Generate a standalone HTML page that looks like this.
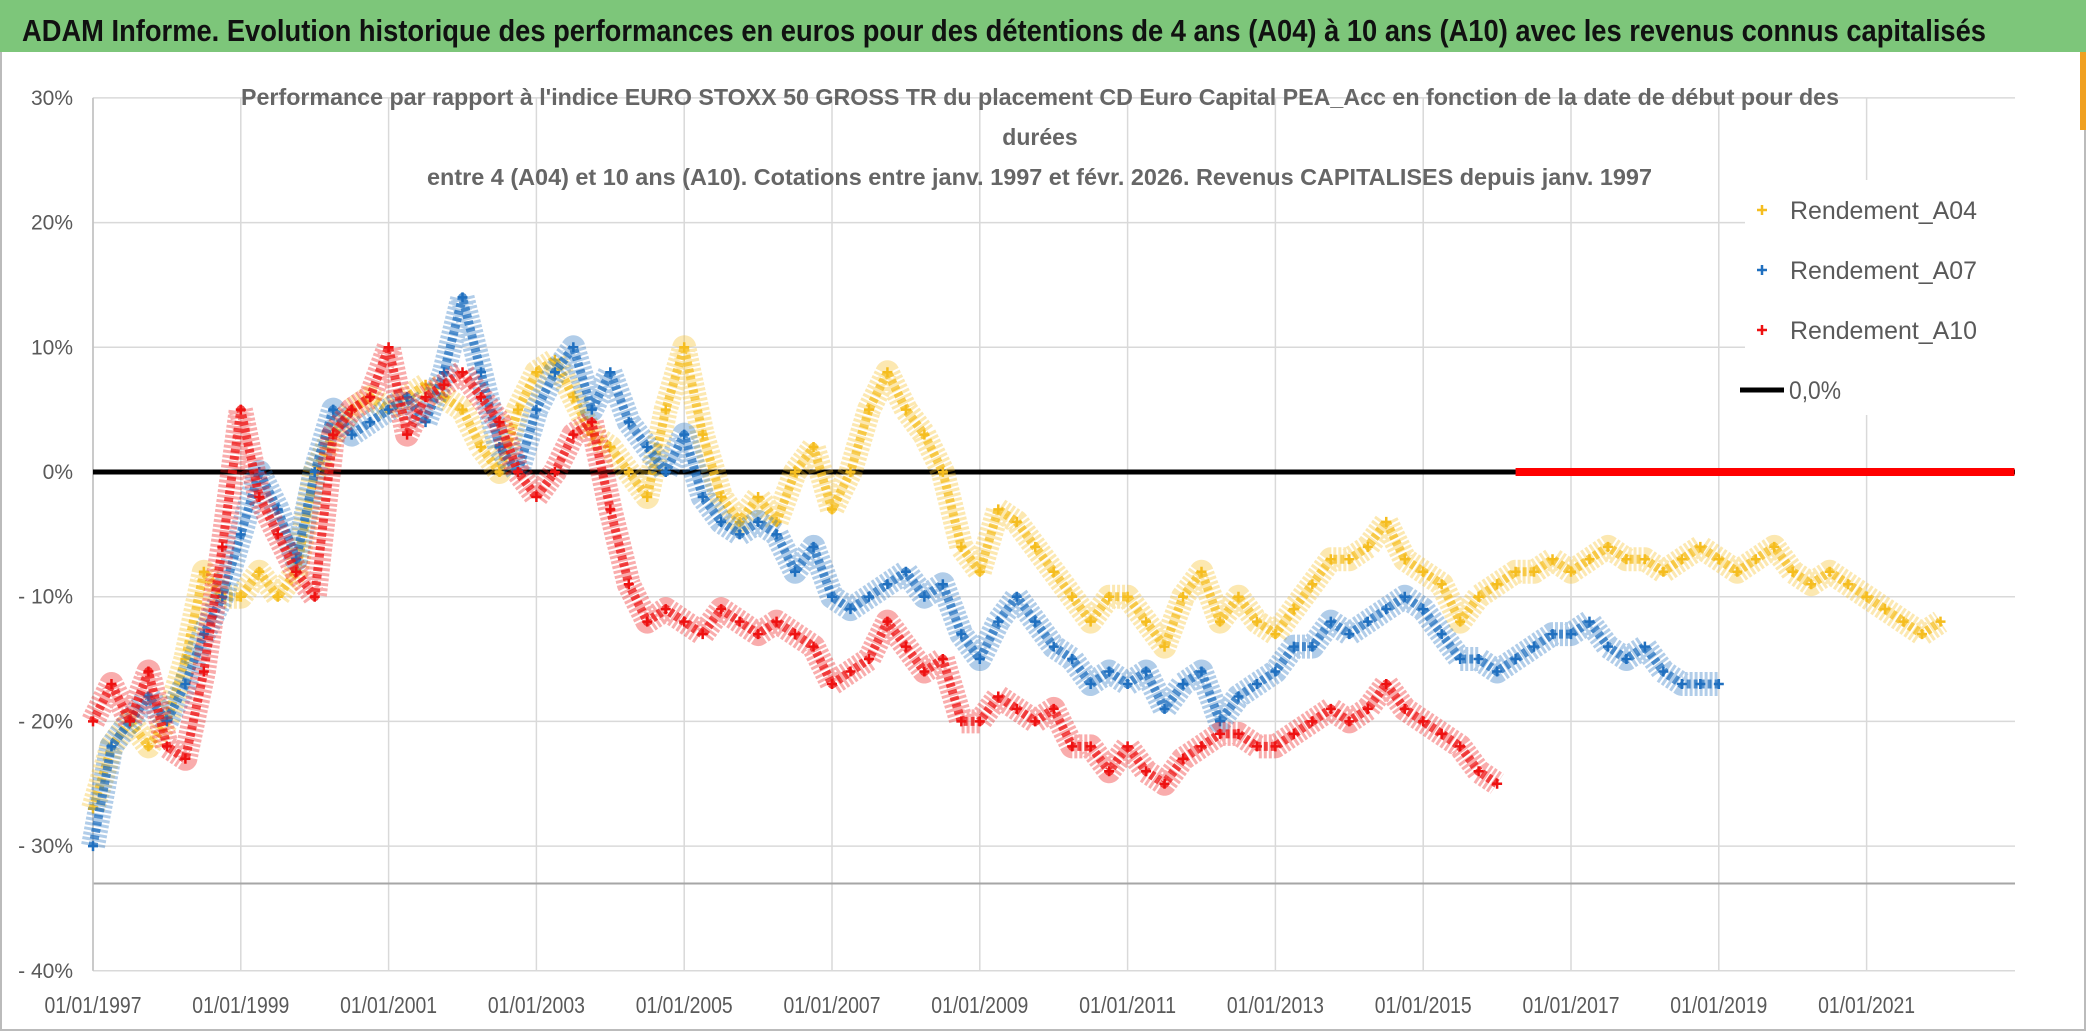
<!DOCTYPE html>
<html><head><meta charset="utf-8"><style>
html,body{margin:0;padding:0;background:#fff;}
svg{display:block;font-family:"Liberation Sans Narrow","Liberation Sans",sans-serif;}
</style></head><body>
<svg id="chart" width="2086" height="1031" viewBox="0 0 2086 1031">
<rect x="0" y="0" width="2086" height="1031" fill="#fff"/>
<rect x="1" y="1" width="2084" height="1029" fill="none" stroke="#bbb" stroke-width="2"/>
<rect x="2080" y="50" width="6" height="80" fill="#f0a020"/>
<rect x="0" y="0" width="2086" height="52" fill="#7dc67a"/>
<text x="22" y="41" font-size="31" font-weight="bold" fill="#111" textLength="1964" lengthAdjust="spacingAndGlyphs">ADAM Informe. Evolution historique des performances en euros pour des détentions de 4 ans (A04) à 10 ans (A10) avec les revenus connus capitalisés</text>
<g id="grid"></g>
<g id="plot"></g>
<g>
<text x="241" y="105" font-size="23" font-weight="bold" fill="#666" textLength="1598" lengthAdjust="spacingAndGlyphs">Performance par rapport à l'indice EURO STOXX 50 GROSS TR  du placement CD Euro Capital PEA_Acc en fonction de la date de début pour des</text>
<text x="1040" y="145" font-size="23" font-weight="bold" fill="#666" text-anchor="middle">durées</text>
<text x="427" y="185" font-size="23" font-weight="bold" fill="#666" textLength="1225" lengthAdjust="spacingAndGlyphs">entre 4 (A04) et 10 ans (A10). Cotations entre janv. 1997 et févr. 2026. Revenus CAPITALISES depuis janv. 1997</text>
</g>
<g id="legend"></g>
</svg>
<script>
const yTicks=[30,20,10,0,-10,-20,-30,-40];
const yTickLabels=["30%","20%","10%","0%","- 10%","- 20%","- 30%","- 40%"];
const xTickYears=[1997,1999,2001,2003,2005,2007,2009,2011,2013,2015,2017,2019,2021];
const xTickLabels=["01/01/1997","01/01/1999","01/01/2001","01/01/2003","01/01/2005","01/01/2007","01/01/2009","01/01/2011","01/01/2013","01/01/2015","01/01/2017","01/01/2019","01/01/2021"];
const startYear=1997;
const a04=[-27,-22,-20,-22,-20,-15,-8,-10,-10,-8,-10,-8,0,3,5,6,5,6,7,6,5,2,0,5,8,9,6,3,2,0,-2,5,10,3,-2,-4,-2,-4,0,2,-3,0,5,8,5,3,0,-6,-8,-3,-4,-6,-8,-10,-12,-10,-10,-12,-14,-10,-8,-12,-10,-12,-13,-11,-9,-7,-7,-6,-4,-7,-8,-9,-12,-10,-9,-8,-8,-7,-8,-7,-6,-7,-7,-8,-7,-6,-7,-8,-7,-6,-8,-9,-8,-9,-10,-11,-12,-13,-12];
const a07=[-30,-22,-20,-18,-20,-17,-13,-10,-5,0,-3,-7,0,5,3,4,5,6,4,8,14,8,2,0,5,8,10,5,8,4,2,0,3,-2,-4,-5,-4,-5,-8,-6,-10,-11,-10,-9,-8,-10,-9,-13,-15,-12,-10,-12,-14,-15,-17,-16,-17,-16,-19,-17,-16,-20,-18,-17,-16,-14,-14,-12,-13,-12,-11,-10,-11,-13,-15,-15,-16,-15,-14,-13,-13,-12,-14,-15,-14,-16,-17,-17,-17];
const a10=[-20,-17,-20,-16,-22,-23,-16,-6,5,-2,-5,-8,-10,3,5,6,10,3,6,7,8,6,4,0,-2,0,3,4,-3,-9,-12,-11,-12,-13,-11,-12,-13,-12,-13,-14,-17,-16,-15,-12,-14,-16,-15,-20,-20,-18,-19,-20,-19,-22,-22,-24,-22,-24,-25,-23,-22,-21,-21,-22,-22,-21,-20,-19,-20,-19,-17,-19,-20,-21,-22,-24,-25];
const a10Zero=[0,0,0,0,0,0,0,0,0,0,0,0,0,0,0,0,0,0,0,0,0,0,0,0,0,0,0,0];
const a10ZeroStart=2016.25;
const NS="http://www.w3.org/2000/svg";
const X0=93,PX_YEAR=73.9,Y0=472,PX_PCT=12.47,XR=2015;
const xs=y=>X0+(y-startYear)*PX_YEAR;
const ys=v=>Y0-v*PX_PCT;
function mk(t,a,p){const e=document.createElementNS(NS,t);for(const k in a)e.setAttribute(k,a[k]);p.appendChild(e);return e;}
const grid=document.getElementById('grid'),plot=document.getElementById('plot'),legend=document.getElementById('legend');
yTicks.forEach((v,i)=>{
 const l=mk('line',{x1:X0,x2:XR,y1:ys(v),y2:ys(v),stroke:'#d9d9d9','stroke-width':1.5},grid);
 
 
 const t=mk('text',{x:73,y:ys(v)+7,'font-size':21,fill:'#595959','text-anchor':'end'},grid);
 t.textContent=yTickLabels[i];
 
 
});
xTickYears.forEach((yr,i)=>{
 const l=mk('line',{x1:xs(yr),x2:xs(yr),y1:ys(30),y2:ys(-40),stroke:'#d9d9d9','stroke-width':1.5},grid);
 
 
 const t=mk('text',{x:xs(yr),y:1013,'font-size':23,fill:'#595959','text-anchor':'middle',textLength:97,lengthAdjust:'spacingAndGlyphs'},grid);
 t.textContent=xTickLabels[i];
 
 
});
const ax=mk('line',{x1:X0,x2:XR,y1:ys(-33),y2:ys(-33),stroke:'#a6a6a6','stroke-width':2},grid);


const ay=mk('line',{x1:X0,x2:X0,y1:ys(30),y2:ys(-40),stroke:'#bfbfbf','stroke-width':1.5},grid);


const zl=mk('line',{x1:X0,x2:XR,y1:ys(0),y2:ys(0),stroke:'#000','stroke-width':5},plot);


function series(vals,start,color,name){
 const g=mk('g',{},plot);
 
 
 const pts=vals.map((v,i)=>xs(start+i*0.25)+','+ys(v)).join(' ');
 mk('polyline',{points:pts,fill:'none',stroke:color,'stroke-width':24,'stroke-opacity':0.35,'stroke-linejoin':'round','stroke-dasharray':'3 2'},g);
 mk('polyline',{points:pts,fill:'none',stroke:color,'stroke-width':9,'stroke-opacity':0.75,'stroke-linejoin':'round','stroke-dasharray':'4 3'},g);
 vals.forEach((v,i)=>{
  const x=xs(start+i*0.25),y=ys(v);
  const p=mk('path',{d:`M${x-5},${y}H${x+5}M${x},${y-5}V${y+5}`,stroke:color,'stroke-width':2.5},g);
  
  
 });
}
series(a04,startYear,'#f5bd1f','series-a04');
series(a07,startYear,'#1f6fbf','series-a07');
series(a10,startYear,'#ee1111','series-a10');
const zg=mk('g',{},plot);


mk('line',{x1:xs(a10ZeroStart),x2:xs(a10ZeroStart+(a10Zero.length-1)*0.25),y1:ys(a10Zero[0]),y2:ys(a10Zero[0]),stroke:'#ff0000','stroke-width':8},zg);
const lg=[['Rendement_A04','#f5bd1f',210],['Rendement_A07','#1f6fbf',270],['Rendement_A10','#ee1111',330]];
mk('rect',{x:1745,y:180,width:300,height:235,fill:'#fff'},legend);
lg.forEach(([lab,c,y])=>{
 const p=mk('path',{d:`M1757,${y}H1767M1762,${y-5}V${y+5}`,stroke:c,'stroke-width':2.5},legend);
 
 
 const t=mk('text',{x:1790,y:y+9,'font-size':25,fill:'#595959',textLength:187,lengthAdjust:'spacingAndGlyphs'},legend);
 t.textContent=lab;
 
 
});
const ll=mk('line',{x1:1740,x2:1784,y1:390,y2:390,stroke:'#000','stroke-width':5},legend);


const lt=mk('text',{x:1789,y:399,'font-size':25,fill:'#595959',textLength:52,lengthAdjust:'spacingAndGlyphs'},legend);
lt.textContent='0,0%';


</script>
</body></html>
